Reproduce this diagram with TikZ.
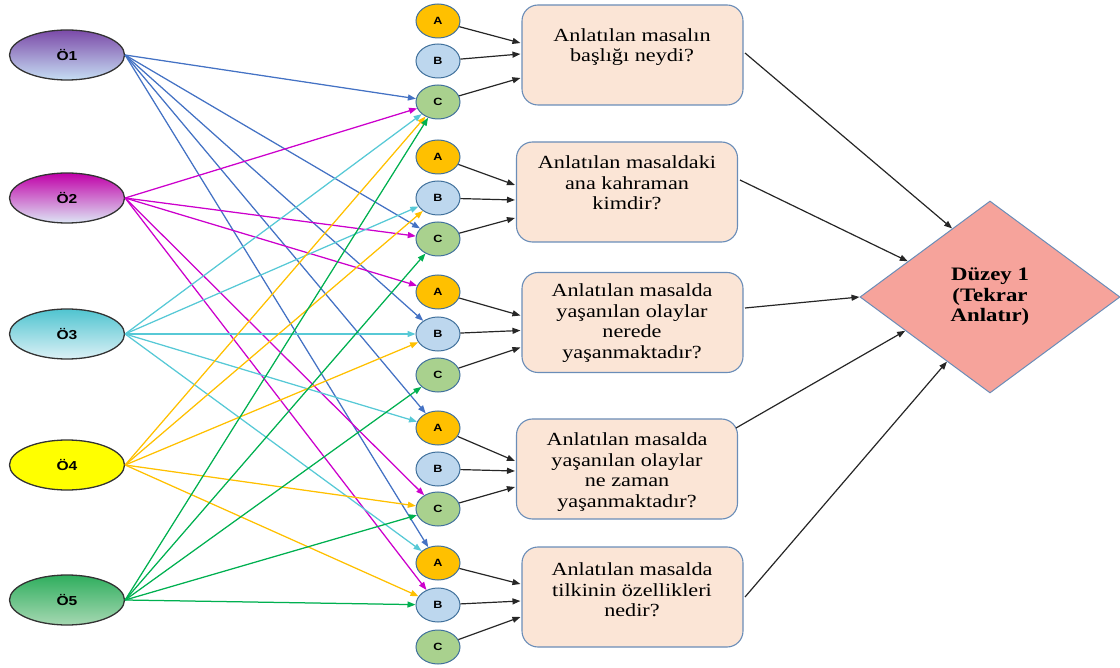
\documentclass[tikz,border=0pt]{standalone}
\usepackage{fontspec}
\setmainfont{Liberation Serif}
\newfontfamily\qfont[FakeStretch=1.2]{Liberation Serif}
\newfontfamily\sfont[FakeStretch=1.2]{Liberation Sans}
\usetikzlibrary{shapes.geometric,arrows.meta,calc}
\definecolor{optA}{HTML}{FFC000}
\definecolor{optB}{HTML}{BDD7EE}
\definecolor{optC}{HTML}{A9D18E}
\definecolor{optborder}{HTML}{41719C}
\definecolor{boxfill}{HTML}{FBE5D6}
\definecolor{boxborder}{HTML}{6A8DB8}
\definecolor{dfill}{HTML}{F6A39B}
\definecolor{cBlue}{HTML}{4472C4}
\definecolor{cMag}{HTML}{CC00CC}
\definecolor{cCyan}{HTML}{57C9D6}
\definecolor{cYel}{HTML}{FFC000}
\definecolor{cGrn}{HTML}{00B050}
\definecolor{s1top}{HTML}{7B4AA8}
\definecolor{s1bot}{HTML}{C6DEF4}
\definecolor{s2top}{HTML}{C000A8}
\definecolor{s2bot}{HTML}{DDE6F5}
\definecolor{s3top}{HTML}{50C4D0}
\definecolor{s3bot}{HTML}{DCF1F6}
\definecolor{s4fill}{HTML}{FFFF00}
\definecolor{s5top}{HTML}{2FAE5E}
\definecolor{s5bot}{HTML}{A6D8B2}
\begin{document}
\begin{tikzpicture}[x=1pt,y=-1pt,
  stud/.style={ellipse, draw=black!80, line width=1.3pt, minimum width=115pt, minimum height=50pt, inner sep=0pt, font=\sfont\bfseries\fontsize{13}{15}\selectfont},
  opt/.style={ellipse, draw=optborder, line width=1pt, minimum width=44pt, minimum height=34pt, inner sep=0pt, font=\sfont\bfseries\fontsize{10.5}{13}\selectfont},
  qbox/.style={rectangle, rounded corners=16pt, draw=boxborder, fill=boxfill, line width=1.1pt, minimum width=221pt, minimum height=100pt},
  qtext/.style={align=center, font=\qfont\fontsize{18.5}{20.5}\selectfont, inner sep=0pt},
  carrow/.style={line width=1.25pt, -{Triangle[length=8pt,width=6pt]}},
  blk/.style={draw=black!85, line width=1.2pt, -{Triangle[length=8pt,width=6pt]}}
]
\useasboundingbox (0,0) rectangle (1120,668);

% students
\node[stud, top color=s1top, bottom color=s1bot] (S1) at (67,55) {Ö1};
\node[stud, top color=s2top, bottom color=s2bot] (S2) at (67,198) {Ö2};
\node[stud, top color=s3top, bottom color=s3bot] (S3) at (67,334) {Ö3};
\node[stud, fill=s4fill] (S4) at (67,465) {Ö4};
\node[stud, top color=s5top, bottom color=s5bot] (S5) at (67,600) {Ö5};

% options
\foreach \q/\ya/\yb/\yc in {1/21/61/102, 2/157/198/239, 3/292/334/375, 4/428/469/509, 5/563/605/647}{
  \node[opt, fill=optA] (A\q) at (438,\ya) {A};
  \node[opt, fill=optB] (B\q) at (438,\yb) {B};
  \node[opt, fill=optC] (C\q) at (438,\yc) {C};
}

% question boxes
\node[qbox] (Q1) at (632.5,55) {};
\node[qbox] (Q2) at (627,192) {};
\node[qbox] (Q3) at (632.5,322.5) {};
\node[qbox] (Q4) at (627,469) {};
\node[qbox] (Q5) at (632.5,597) {};
\node[qtext] (Q1t) at (632,47) {Anlatılan masalın\\başlığı neydi?};
\node[qtext] (Q2t) at (627,183) {Anlatılan masaldaki\\ana kahraman\\kimdir?};
\node[qtext] (Q3t) at (632,323) {Anlatılan masalda\\yaşanılan olaylar\\nerede\\yaşanmaktadır?};
\node[qtext] (Q4t) at (627,472) {Anlatılan masalda\\yaşanılan olaylar\\ne zaman\\yaşanmaktadır?};
\node[qtext] (Q5t) at (632,590) {Anlatılan masalda\\tilkinin özellikleri\\nedir?};

% diamond
\node[diamond, draw=boxborder, fill=dfill, line width=1pt, minimum width=260pt, minimum height=192pt, inner sep=0pt, align=center, font=\qfont\bfseries\fontsize{19}{20.5}\selectfont] (D) at (990,297) {Düzey 1\\(Tekrar\\Anlatır)};

% student answers
\foreach \t in {C1,C2,B3,A4,A5} \draw[carrow, draw=cBlue, fill=cBlue] (S1.east) -- (\t);
\foreach \t in {C1,C2,A3,C4,B5} \draw[carrow, draw=cMag, fill=cMag] (S2.east) -- (\t);
\foreach \t in {C1,B2,B3,A4,A5} \draw[carrow, draw=cCyan, fill=cCyan] (S3.east) -- (\t);
\foreach \t in {C1,B2,B3,C4,B5} \draw[carrow, draw=cYel, fill=cYel] (S4.east) -- (\t);
\foreach \t in {C1,C2,C3,C4,B5} \draw[carrow, draw=cGrn, fill=cGrn] (S5.east) -- (\t);

% options to questions
\foreach \q/\oa/\ob/\oc in {1/-12/-1/23, 2/-7/8/26, 3/-7/8/25, 4/-8/2/18, 5/-13/4/20}{
  \coordinate (QA\q) at ($(Q\q.west)+(-1,\oa)$);
  \coordinate (QB\q) at ($(Q\q.west)+(-1,\ob)$);
  \coordinate (QC\q) at ($(Q\q.west)+(-1,\oc)$);
  \draw[blk] (A\q) -- (QA\q);
  \draw[blk] (B\q) -- (QB\q);
  \draw[blk] (C\q) -- (QC\q);
}

% questions to diamond
\coordinate (o1) at (745,53);
\coordinate (o2) at (740,180);
\coordinate (o3) at (745,308);
\coordinate (o4) at (736,428);
\coordinate (o5) at (745,597);
\coordinate (d1) at ($(D.west)!0.71!(D.north)$);
\coordinate (d2) at ($(D.west)!0.37!(D.north)$);
\coordinate (d3) at (D.west);
\coordinate (d4) at ($(D.west)!0.35!(D.south)$);
\coordinate (d5) at ($(D.west)!0.67!(D.south)$);
\foreach \i in {1,...,5} \draw[blk] (o\i) -- (d\i);
\end{tikzpicture}
\end{document}
